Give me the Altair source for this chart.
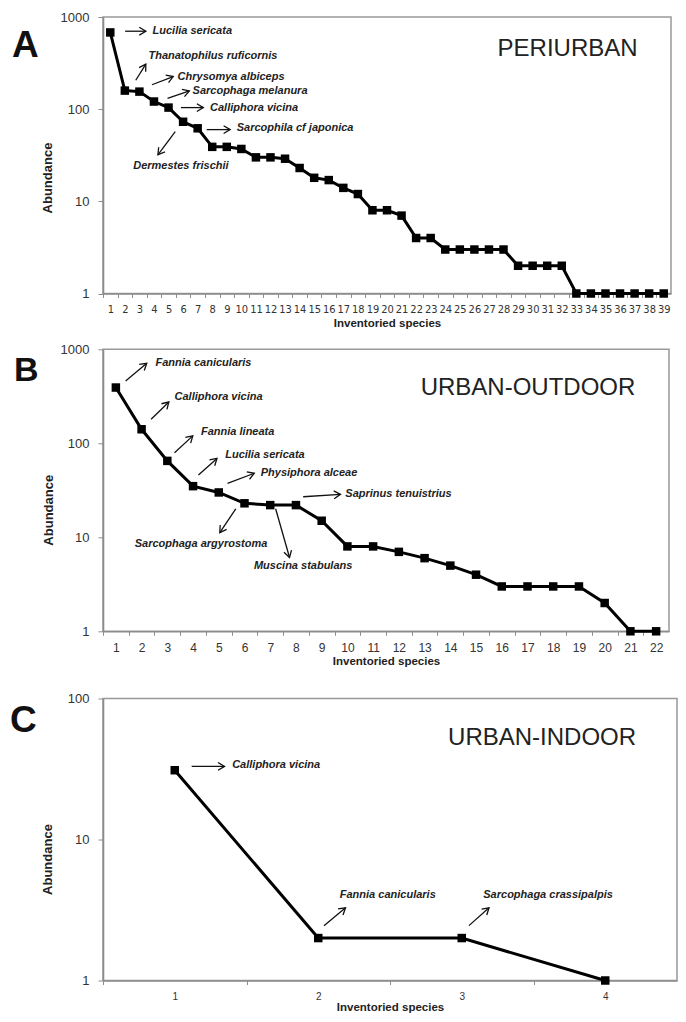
import math
import altair as alt
import pandas as pd

# ---------------- data ----------------
# Panel A (periurban)
a_species = list(range(1, 40))
a_abund = [680, 159, 155, 121, 104, 73, 62, 39, 39, 37, 30, 30, 29, 23, 18, 17, 14, 12,
           8, 8, 7, 4, 4, 3, 3, 3, 3, 3, 2, 2, 2, 2, 1, 1, 1, 1, 1, 1, 1]
a_names = ["Lucilia sericata", "Thanatophilus ruficornis", "Chrysomya albiceps",
           "Sarcophaga melanura", "Calliphora vicina", "Sarcophila cf japonica",
           "Dermestes frischii"]
a_text_x = [3.9, 3.62, 5.62, 6.65, 7.85, 9.68, 5.85]
a_text_y = [708, 380, 226, 156, 104, 63, 24.3]
a_text_align = ["left", "left", "left", "left", "left", "left", "center"]
a_arr_x1 = [2.02, 2.75, 3.86, 4.93, 5.85, 7.62, 5.46]
a_arr_y1 = [701, 206, 184, 131, 104, 60, 57]
a_arr_x2 = [3.44, 3.44, 5.32, 6.43, 7.39, 9.23, 4.27]
a_arr_y2 = [701, 308, 226, 158, 104, 60, 32]

# Panel B (urban-outdoor)
b_species = list(range(1, 23))
b_abund = [392, 141, 65, 35, 30, 23, 22, 22, 15, 8, 8, 7, 6, 5, 4, 3, 3, 3, 3, 2, 1, 1]
b_names = ["Fannia canicularis", "Calliphora vicina", "Fannia lineata", "Lucilia sericata",
           "Physiphora alceae", "Saprinus tenuistrius", "Sarcophaga argyrostoma",
           "Muscina stabulans"]
b_text_x = [2.54, 3.28, 4.31, 5.25, 6.63, 9.92, 4.31, 8.28]
b_text_y = [720, 311, 132, 76, 48.6, 28.6, 8.4, 4.95]
b_text_align = ["left", "left", "left", "left", "left", "left", "center", "center"]
b_arr_x1 = [1.38, 2.37, 3.28, 4.21, 5.34, 8.28, 5.66, 7.21]
b_arr_y1 = [460, 180, 79.4, 46, 37.5, 27, 20.1, 20.1]
b_arr_x2 = [2.20, 3.06, 3.99, 4.93, 6.38, 9.73, 5.04, 7.75]
b_arr_y2 = [710, 275, 120, 69, 48, 28.6, 11.2, 6.1]

# Panel C (urban-indoor)
c_species = [1, 2, 3, 4]
c_abund = [31, 2, 2, 1]
c_names = ["Calliphora vicina", "Fannia canicularis", "Sarcophaga crassipalpis"]
c_text_x = [1.40, 2.15, 3.15]
c_text_y = [34, 4.06, 4.06]
c_text_align = ["left", "left", "left"]
c_arr_x1 = [1.118, 2.04, 3.05]
c_arr_y1 = [33, 2.45, 2.45]
c_arr_x2 = [1.347, 2.19, 3.19]
c_arr_y2 = [33, 3.28, 3.28]

# panel letters, y titles and region labels (positions in data units of each panel)
panel_letters = ["A", "B", "C"]
letter_x = [-5.75, -2.96, -0.148]
letter_y = [370, 460, 58]
ytitle_x = [-2.97, -1.46, 0.148]
ytitle_y = [17.9, 19.4, 7.21]
region_names = ["PERIURBAN", "URBAN-OUTDOOR", "URBAN-INDOOR"]
region_x = [32.4, 17.02, 3.56]
region_y = [448, 390, 52.3]

X_TITLE = "Inventoried species"
Y_TITLE = "Abundance"

FONT = "Liberation Sans"
AX = "#8c8c8c"
TXT = "#333333"


def panel(i, species, abund, names, tx, ty, talign, ax1, ay1, ax2, ay2,
          W, H, ymax, letter_size, xlab_size, xlab_font, xtitle_pad):
    n = len(species)
    decades = math.log10(ymax)

    def px(x):
        return (x - 0.5) / n * W

    def py(y):
        return H * (1 - math.log10(y) / decades)

    df = pd.DataFrame({"idx": species, "abund": abund})
    ann = pd.DataFrame({"name": names, "tx": tx, "ty": ty, "al": talign})
    angles = [math.degrees(math.atan2(py(y2) - py(y1), px(x2) - px(x1))) % 360
              for x1, y1, x2, y2 in zip(ax1, ay1, ax2, ay2)]
    arr = pd.DataFrame({"x1": ax1, "y1": ay1, "x2": ax2, "y2": ay2, "ang": angles})
    reg = pd.DataFrame({"name": [region_names[i]], "rx": [region_x[i]], "ry": [region_y[i]]})
    let = pd.DataFrame({"name": [panel_letters[i]], "lx": [letter_x[i]], "ly": [letter_y[i]]})
    yt = pd.DataFrame({"name": [Y_TITLE], "yx": [ytitle_x[i]], "yy": [ytitle_y[i]]})

    xscale = alt.Scale(domain=[0.5, n + 0.5], nice=False, zero=False)
    yscale = alt.Scale(type="log", domain=[1, ymax], nice=False)
    # ticks sit on the category boundaries; labels are shifted to the category centres
    tick_vals = [k + 0.5 for k in range(n)]
    xaxis = alt.Axis(
        values=tick_vals,
        labelExpr="format(datum.value + 0.5, 'd')",
        labelOffset=W / n / 2, labelOverlap=False, labelFlush=False, labelBound=False,
        labelAngle=0, labelBaseline="middle", labelPadding=12, labelFont=xlab_font,
        labelFontSize=xlab_size, labelColor=TXT, grid=False,
        domainColor=AX, domainWidth=1.6, tickColor=AX, tickSize=4, tickWidth=1,
        title=X_TITLE, titleFont=FONT, titleFontSize=11.5, titleFontWeight="bold",
        titleColor="#222222", titlePadding=xtitle_pad,
    )
    yaxis = alt.Axis(
        values=[v for v in [1, 10, 100, 1000] if v <= ymax], format="d",
        labelFont=FONT, labelFontSize=13, labelColor=TXT, labelPadding=9,
        grid=False, domainColor=AX, domainWidth=1.6, tickColor=AX, tickSize=5,
        tickWidth=1, title=None,
    )

    def X(f):
        return alt.X(f, scale=xscale, axis=xaxis)

    def Y(f):
        return alt.Y(f, scale=yscale, axis=yaxis)

    base = alt.Chart(df)
    line = base.mark_line(color="black", strokeWidth=3).encode(
        x=X("idx:Q"), y=Y("abund:Q"))
    pts = base.mark_point(shape="square", filled=True, color="black", size=72,
                          opacity=1).encode(x=X("idx:Q"), y=Y("abund:Q"))
    layers = [line, pts]
    for al in ["left", "center"]:
        sub = ann[ann["al"] == al]
        if len(sub):
            layers.append(
                alt.Chart(sub).mark_text(
                    align=al, baseline="middle", font=FONT, fontSize=11,
                    fontStyle="italic", fontWeight="bold", color="#222222",
                ).encode(x=X("tx:Q"), y=Y("ty:Q"), text="name:N")
            )
    layers.append(
        alt.Chart(arr).mark_rule(color="#111111", strokeWidth=1.3).encode(
            x=X("x1:Q"), y=Y("y1:Q"), x2="x2:Q", y2="y2:Q")
    )
    layers.append(
        alt.Chart(arr).mark_point(
            shape="M-1,-0.6L0,0L-1,0.6", filled=False, color="#111111",
            strokeWidth=1.3, size=170, opacity=1,
        ).encode(x=X("x2:Q"), y=Y("y2:Q"), angle=alt.Angle("ang:Q", scale=None))
    )
    layers.append(
        alt.Chart(reg).mark_text(
            align="center", baseline="middle", font=FONT, fontSize=24,
            color="#222222",
        ).encode(x=X("rx:Q"), y=Y("ry:Q"), text="name:N")
    )
    layers.append(
        alt.Chart(let).mark_text(
            align="left", baseline="alphabetic", font=FONT, fontSize=letter_size,
            fontWeight="bold", color="#111111",
        ).encode(x=X("lx:Q"), y=Y("ly:Q"), text="name:N")
    )
    layers.append(
        alt.Chart(yt).mark_text(
            align="center", baseline="alphabetic", angle=270, font=FONT,
            fontSize=13, fontWeight="bold", color="#222222",
        ).encode(x=X("yx:Q"), y=Y("yy:Q"), text="name:N")
    )
    return alt.layer(*layers).properties(width=W, height=H)


pa = panel(0, a_species, a_abund, a_names, a_text_x, a_text_y, a_text_align,
           a_arr_x1, a_arr_y1, a_arr_x2, a_arr_y2,
           568, 276.5, 1000, 37, 11,
           "Liberation Sans Narrow, DejaVu Sans Condensed, Liberation Sans", 3)
pb = panel(1, b_species, b_abund, b_names, b_text_x, b_text_y, b_text_align,
           b_arr_x1, b_arr_y1, b_arr_x2, b_arr_y2,
           566, 282, 1000, 34, 12, FONT, 2)
pc = panel(2, c_species, c_abund, c_names, c_text_x, c_text_y, c_text_align,
           c_arr_x1, c_arr_y1, c_arr_x2, c_arr_y2,
           574, 282, 100, 37, 10, FONT, 0)

top = alt.vconcat(pa, pb, spacing=12.3)
chart = alt.vconcat(top, pc, spacing=23.5).properties(
    padding={"left": 1, "top": 2, "right": 0, "bottom": 0}
).configure_view(stroke="#999999", strokeWidth=1.5)

chart.save("out.html", embed_options={"renderer": "svg", "actions": False})
